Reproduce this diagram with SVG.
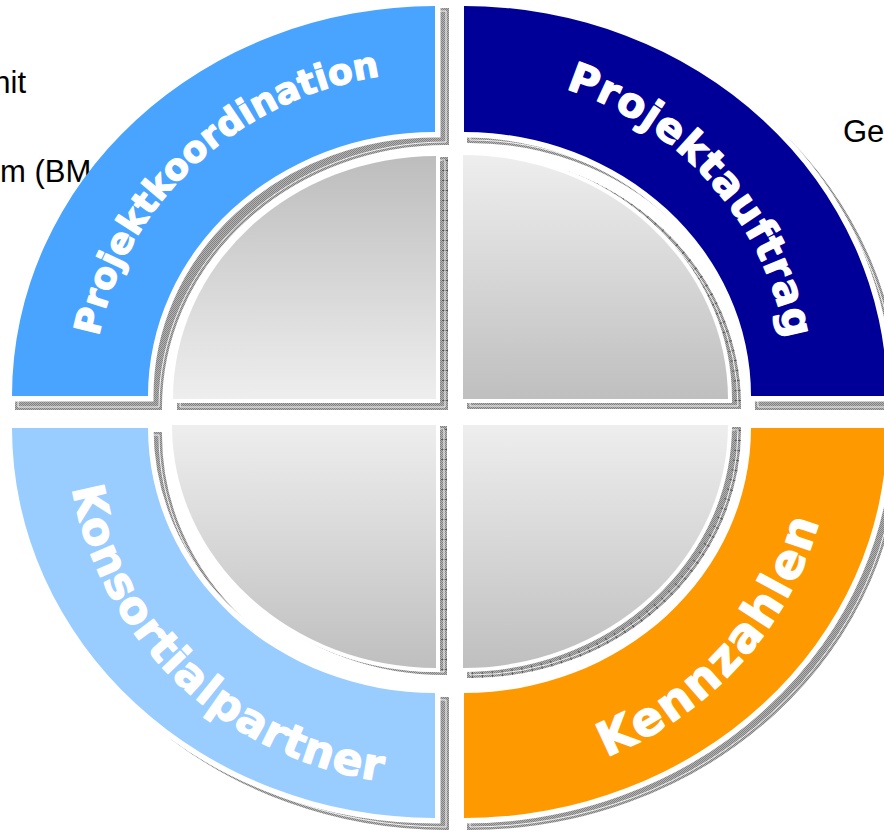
<svg xmlns="http://www.w3.org/2000/svg" width="884" height="832" viewBox="0 0 884 832">
<defs>
<pattern id="dots" width="2" height="2" patternUnits="userSpaceOnUse">
<rect width="2" height="2" fill="#b4b4b4"/>
<rect width="1" height="1" fill="#808080"/>
<rect x="1" y="1" width="1" height="1" fill="#808080"/>
</pattern>
<linearGradient id="gDarkTop" x1="0" y1="0" x2="0" y2="1">
<stop offset="0" stop-color="#bdbdbd"/><stop offset="1" stop-color="#eeeeee"/>
</linearGradient>
<linearGradient id="gLightTop" x1="0" y1="0" x2="0" y2="1">
<stop offset="0" stop-color="#eeeeee"/><stop offset="1" stop-color="#bfbfbf"/>
</linearGradient>
<path id="tpTL" d="M93,396 A342,324 0 0 1 435,72"/>
<path id="tpTR" d="M464,73 A327,323 0 0 1 791,396"/>
<path id="tpBL" d="M67,428 A368,357 0 0 0 435,785"/>
<path id="tpBR" d="M464,785 A368,357 0 0 0 832,428"/>
</defs>
<style>
.bg{font-family:"Liberation Sans",Arial,sans-serif;font-size:31px;fill:#000}
.sh{fill:url(#dots);stroke:url(#dots);stroke-width:6;stroke-linejoin:miter}
.shl{fill:none;stroke:#ffffff;stroke-width:0.9}
.tick{fill:none;stroke:#555555;stroke-width:6;stroke-dasharray:1 9}
.halo{fill:none;stroke:#ffffff;stroke-width:11;stroke-linejoin:miter}
.ring{stroke:#ffffff;stroke-width:11;paint-order:stroke fill;stroke-linejoin:miter}
.disc{stroke:#ffffff;stroke-width:8;paint-order:stroke fill;stroke-linejoin:miter}
.lbl{font-family:"DejaVu Sans",Verdana,sans-serif;font-weight:bold;fill:#ffffff;stroke:#ffffff;stroke-width:1.3;stroke-linejoin:round}
</style>
<rect width="884" height="832" fill="#ffffff"/>
<g id="background-text">
<text class="bg" x="26" y="93" text-anchor="end">nit</text>
<text class="bg" x="0" y="182">m (BM</text>
<text class="bg" x="843" y="142">Ge</text>
</g>
<g id="connectors"></g>
<g id="projektkoordination">
<path class="sh" d="M18,407 A428,396 0 0 1 446,11 L446,142 A287,265 0 0 0 159,407 Z"/>
<path class="shl" d="M18,407 A428,396 0 0 1 446,11 L446,142 A287,265 0 0 0 159,407 Z"/>
<path class="halo" d="M12,396 L148,396 A287,264 0 0 1 435,132 L435,6"/>
<path fill="#48a4ff" d="M12,396 A423,390 0 0 1 435,6 L435,132 A287,264 0 0 0 148,396 Z"/>
<text class="lbl" font-size="36"><textPath href="#tpTL" startOffset="264" text-anchor="middle" textLength="408" lengthAdjust="spacing">Projektkoordination</textPath></text>
</g>
<g id="projektauftrag">
<path class="sh" d="M470,11 A428,396 0 0 1 898,407 L758,407 A288,267 0 0 0 470,140 Z"/>
<path class="shl" d="M470,11 A428,396 0 0 1 898,407 L758,407 A288,267 0 0 0 470,140 Z"/>
<path class="ring" fill="#000099" d="M464,6 A423,390 0 0 1 887,396 L751,396 A287,264 0 0 0 464,132 Z"/>
<text class="lbl" font-size="41"><textPath href="#tpTR" startOffset="278" text-anchor="middle" textLength="350" lengthAdjust="spacing">Projektauftrag</textPath></text>
</g>
<g id="konsortialpartner">
<path class="sh" d="M18,435 L159,435 A287,265 0 0 0 446,700 L446,827 A428,392 0 0 1 18,435 Z"/>
<path class="shl" d="M18,435 L159,435 A287,265 0 0 0 446,700 L446,827 A428,392 0 0 1 18,435 Z"/>
<path class="ring" fill="#99ccff" d="M12,428 L148,428 A287,265 0 0 0 435,693 L435,818 A423,390 0 0 1 12,428 Z"/>
<text class="lbl" font-size="44"><textPath href="#tpBL" startOffset="288" text-anchor="middle" textLength="455" lengthAdjust="spacing">Konsortialpartner</textPath></text>
</g>
<g id="kennzahlen">
<path class="sh" d="M470,700 L470,827 A428,392 0 0 0 898,435 L758,435 A288,265 0 0 1 470,700 Z"/>
<path class="shl" d="M470,700 L470,827 A428,392 0 0 0 898,435 L758,435 A288,265 0 0 1 470,700 Z"/>
<path class="ring" fill="#ff9900" d="M464,693 L464,818 A423,390 0 0 0 887,428 L751,428 A287,265 0 0 1 464,693 Z"/>
<text class="lbl" font-size="47"><textPath href="#tpBR" startOffset="310" text-anchor="middle" textLength="328" lengthAdjust="spacing">Kennzahlen</textPath></text>
</g>
<g id="disc-top-left">
<path class="sh" d="M445,407 L180,407 A265,247 0 0 1 445,160 Z"/>
<path class="tick" d="M445,160 L445,407"/>
<path class="shl" d="M445,407 L180,407 A265,247 0 0 1 445,160 Z"/>
<path class="disc" fill="url(#gDarkTop)" d="M436,399 L173,399 A263,243 0 0 1 436,156 Z"/>
</g>
<g id="disc-top-right">
<path class="sh" d="M470,406 L470,157 A268,249 0 0 1 738,406 Z"/>
<path class="tick" d="M470,157 A268,249 0 0 1 738,406"/>
<path class="shl" d="M470,406 L470,157 A268,249 0 0 1 738,406 Z"/>
<path class="disc" fill="url(#gLightTop)" d="M463,399 L463,155 A265,244 0 0 1 728,399 Z"/>
</g>
<g id="disc-bottom-left">
<path class="sh" d="M444,429 L444,672 A266,243 0 0 1 178,429 Z"/>
<path class="tick" d="M444,429 L444,672"/>
<path class="shl" d="M444,429 L444,672 A266,243 0 0 1 178,429 Z"/>
<path class="disc" fill="url(#gLightTop)" d="M436,425 L436,668 A264,243 0 0 1 172,425 Z"/>
</g>
<g id="disc-bottom-right">
<path class="sh" d="M470,430 L738,430 A268,245 0 0 1 470,675 Z"/>
<path class="tick" d="M738,430 A268,245 0 0 1 470,675"/>
<path class="shl" d="M470,430 L738,430 A268,245 0 0 1 470,675 Z"/>
<path class="disc" fill="url(#gLightTop)" d="M463,425 L728,425 A265,243 0 0 1 463,668 Z"/>
</g>
</svg>
